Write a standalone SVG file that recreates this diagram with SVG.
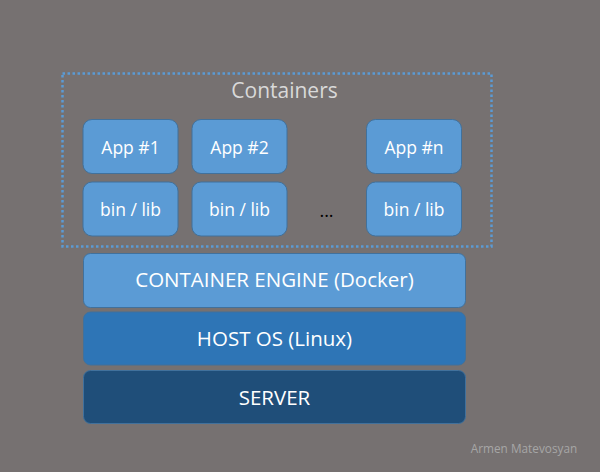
<svg xmlns="http://www.w3.org/2000/svg" width="600" height="472" viewBox="0 0 600 472">
<style>
.box{stroke:#41719c;stroke-width:1}
.app{fill:#5b9bd5}
.t{font-family:"Open Sans","Liberation Sans",sans-serif;fill:#ffffff;text-anchor:middle;dominant-baseline:central}
.s{font-size:17.5px}
.l{font-size:20.5px}
</style>
<rect width="600" height="472" fill="#767171"/>
<g id="containers">
<rect x="62.5" y="73.5" width="429" height="173" fill="none" stroke="#5b9bd5" stroke-width="2.5" stroke-dasharray="2.5 2.5"/>
<text x="284.5" y="90" class="t" style="font-size:21px;fill:#d9d9d9">Containers</text>
</g>
<g id="app1"><rect class="box app" x="83" y="119.5" width="95" height="54" rx="9"/><text class="t s" x="130.5" y="146.5">App #1</text></g>
<g id="bin1"><rect class="box app" x="83" y="182" width="95" height="54" rx="9"/><text class="t s" x="130.5" y="208.5">bin / lib</text></g>
<g id="app2"><rect class="box app" x="192" y="119.5" width="95" height="54" rx="9"/><text class="t s" x="239.5" y="146.5">App #2</text></g>
<g id="bin2"><rect class="box app" x="192" y="182" width="95" height="54" rx="9"/><text class="t s" x="239.5" y="208.5">bin / lib</text></g>
<g id="appn"><rect class="box app" x="366.5" y="119.5" width="95" height="54" rx="9"/><text class="t s" x="414" y="146.5">App #n</text></g>
<g id="binn"><rect class="box app" x="366.5" y="182" width="95" height="54" rx="9"/><text class="t s" x="414" y="208.5">bin / lib</text></g>
<g id="dots"><text x="326.5" y="217" style="font-family:'Open Sans',sans-serif;font-size:18px;fill:#000;text-anchor:middle">...</text></g>
<g id="engine"><rect class="box" fill="#5b9bd5" x="83.5" y="253.5" width="382" height="54" rx="7"/><text class="t l" x="274.5" y="278.5">CONTAINER ENGINE (Docker)</text></g>
<g id="hostos"><rect class="box" fill="#2e75b6" x="83.5" y="312" width="382" height="53" rx="7"/><text class="t l" x="274.5" y="338">HOST OS (Linux)</text></g>
<g id="server"><rect class="box" fill="#1f4e79" x="83.5" y="370.5" width="382" height="53" rx="7"/><text class="t l" x="274.5" y="397">SERVER</text></g>
<g id="connectors"></g>
<text x="524" y="448" style="font-family:'Open Sans',sans-serif;font-size:11.8px;fill:#a6a6a6;text-anchor:middle;dominant-baseline:central">Armen Matevosyan</text>
</svg>
